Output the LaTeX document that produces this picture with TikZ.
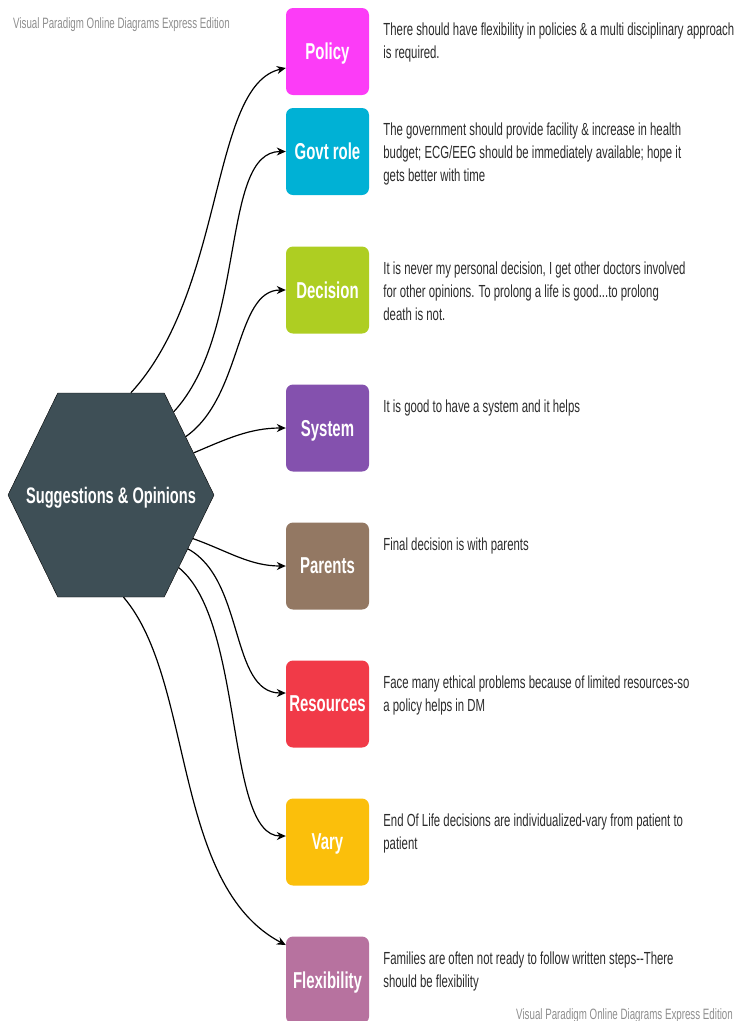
\documentclass[tikz,border=0pt]{standalone}
\usepackage{fontspec}
\setmainfont[FakeStretch=0.65]{Liberation Sans}
\usetikzlibrary{arrows.meta,positioning,shapes.symbols}
\definecolor{Slate}{HTML}{3E4F56}
\definecolor{Magenta}{HTML}{FC3CF7}
\definecolor{Cyan}{HTML}{00B1D5}
\definecolor{Lime}{HTML}{AECE22}
\definecolor{Violet}{HTML}{8451AE}
\definecolor{Taupe}{HTML}{937863}
\definecolor{Coral}{HTML}{F13A48}
\definecolor{Amber}{HTML}{FBBF0B}
\definecolor{Mauve}{HTML}{B7729F}
\definecolor{Ink}{HTML}{2B2B2B}
\definecolor{Muted}{HTML}{8E8E8E}
\tikzset{
 hub/.style={signal,signal to=west and east,signal pointer angle=128,draw=black,fill=Slate,minimum width=206pt,minimum height=204pt,inner sep=0pt},
 hubtext/.style={inner sep=0pt,text depth=0pt,font=\bfseries\fontsize{22.5}{26}\selectfont,text=white},
 topic/.style={rounded corners=7pt,minimum width=83pt,minimum height=87pt,inner sep=0pt,text depth=0pt,font=\bfseries\fontsize{23}{27}\selectfont,text=white},
 note/.style={anchor=base west,align=flush left,text width=380pt,inner sep=0pt,font=\fontsize{17.5}{23}\selectfont,text=Ink},
 stamp/.style={inner sep=0pt,font=\fontsize{15}{18}\selectfont,text=Muted},
 arr/.style={-{Stealth[length=9pt,width=8pt]},line width=1.2pt,draw=black}
}
\begin{document}
\begin{tikzpicture}[x=1pt,y=-1pt]
\useasboundingbox (0,0) rectangle (747,1021);
\node[stamp,anchor=base west] (stampTop) at (13,28.5) {Visual Paradigm Online Diagrams Express Edition};
\node[stamp,anchor=base east] (stampBot) at (733,1019) {Visual Paradigm Online Diagrams Express Edition};
\node[hub] (hub) at (111,495) {};
\node[hubtext] (hubTxt) at (hub.center) {Suggestions \& Opinions};
\node[topic,fill=Magenta] (policy) at (327.5,51.5) {Policy};
\node[topic,fill=Cyan] (govt) at (327.5,151.5) {Govt role};
\node[topic,fill=Lime] (decision) at (327.5,290) {Decision};
\node[topic,fill=Violet] (system) at (327.5,428) {System};
\node[topic,fill=Taupe] (parents) at (327.5,566) {Parents};
\node[topic,fill=Coral] (resources) at (327.5,704) {Resources};
\node[topic,fill=Amber] (vary) at (327.5,842) {Vary};
\node[topic,fill=Mauve] (flex) at (327.5,980) {Flexibility};
\node[note] (policyTxt) at ([xshift=14pt,yshift=-28pt]policy.north east) {There should have flexibility in policies \& a multi disciplinary approach\\is required.};
\node[note] (govtTxt) at ([xshift=14pt,yshift=-28pt]govt.north east) {The government should provide facility \& increase in health\\budget; ECG/EEG should be immediately available; hope it\\gets better with time};
\node[note] (decisionTxt) at ([xshift=14pt,yshift=-28pt]decision.north east) {It is never my personal decision, I get other doctors involved\\for other opinions. To prolong a life is good...to prolong\\death is not.};
\node[note] (systemTxt) at ([xshift=14pt,yshift=-28pt]system.north east) {It is good to have a system and it helps};
\node[note] (parentsTxt) at ([xshift=14pt,yshift=-28pt]parents.north east) {Final decision is with parents};
\node[note] (resourcesTxt) at ([xshift=14pt,yshift=-28pt]resources.north east) {Face many ethical problems because of limited resources-so\\a policy helps in DM};
\node[note] (varyTxt) at ([xshift=14pt,yshift=-28pt]vary.north east) {End Of Life decisions are individualized-vary from patient to\\patient};
\node[note] (flexTxt) at ([xshift=14pt,yshift=-28pt]flex.north east) {Families are often not ready to follow written steps-{}-There\\should be flexibility};
\foreach \n/\a/\p/\q/\u/\v/\s in {policy/79/95/-103/-76/17/-16.5,govt/53/74/-80/-66/0/0,decision/38/57/-40/-51/0/0,system/27/33/-14/-36/0/0,parents/-28/36/13/-36/0/0,resources/-35/57/31/-56/0/11,vary/-47/66/53/-61/0/6,flex/-83/71/83/-114/-60/35}
 \draw[arr] (hub.\a) .. controls +(\p,\q) and +(\u,\v) .. ([yshift=\s pt]\n.west);
\end{tikzpicture}
\end{document}
